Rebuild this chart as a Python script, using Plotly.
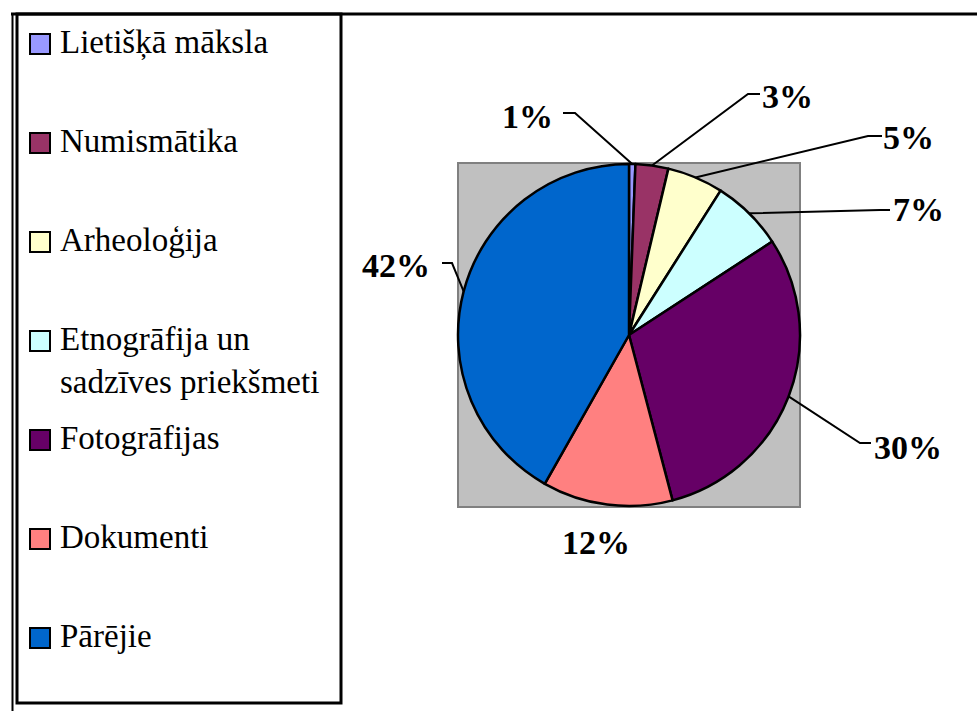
import math
import plotly.graph_objects as go

# data
categories = ['Lietišķā māksla', 'Numismātika', 'Arheoloģija',
              'Etnogrāfija un<br>sadzīves priekšmeti', 'Fotogrāfijas',
              'Dokumenti', 'Pārējie']
shares = [0.6, 3.1, 5.3, 6.8, 30.1, 12.3, 41.8]
pct_labels = ['1%', '3%', '5%', '7%', '30%', '12%', '42%']
colors = ['#9999FF', '#993366', '#FFFFCC', '#CCFFFF', '#660066', '#FF8080', '#0066CC']

W, H = 977, 711
# plot area (px)
PX0, PX1, PY0, PY1 = 458, 800, 163, 507
CX, CY = (PX0 + PX1) / 2, (PY0 + PY1) / 2
R = min(PX1 - PX0, PY1 - PY0) / 2

# label placement (px): text centre, elbow, stub end
label_pos = [(527, 117), (787, 96), (908, 137), (918, 210), (908, 447), (596, 542), (396, 265)]
elbows = [(575, 113), (748, 94), (868, 136), (880, 210), (860, 443), None, (452, 263)]
stubs = [(563, 113), (760, 94), (882, 136), (890, 210), (871, 443), None, (442, 263)]


def px(x):
    return x / W


def py(y):
    return 1 - y / H


fig = go.Figure(go.Pie(
    values=shares, labels=categories, sort=False, direction='clockwise', rotation=0,
    marker=dict(colors=colors, line=dict(color='black', width=2.5)),
    textinfo='none', hoverinfo='label+percent', showlegend=False,
    domain=dict(x=[px(PX0), px(PX1)], y=[py(PY1), py(PY0)]),
))

shapes = []
annotations = []

# grey plot area
shapes.append(dict(type='rect', xref='paper', yref='paper', layer='below',
                   x0=px(PX0), x1=px(PX1), y0=py(PY1), y1=py(PY0),
                   fillcolor='#C0C0C0', line=dict(color='#808080', width=2)))

# percent labels + leader lines
total = sum(shares)
cum = 0
for i, v in enumerate(shares):
    mid = (cum + v / 2) / total * 2 * math.pi
    cum += v
    ax, ay = CX + R * math.sin(mid), CY - R * math.cos(mid)
    if elbows[i] is not None:
        ex, ey = elbows[i]
        sx, sy = stubs[i]
        shapes.append(dict(type='path', xref='paper', yref='paper',
                           path=f'M {px(ax)} {py(ay)} L {px(ex)} {py(ey)} L {px(sx)} {py(sy)}',
                           line=dict(color='black', width=2)))
    tx, ty = label_pos[i]
    annotations.append(dict(x=px(tx), y=py(ty), xref='paper', yref='paper',
                            text=f'<b>{pct_labels[i]}</b>', showarrow=False,
                            xanchor='center', yanchor='middle',
                            font=dict(family='Liberation Serif', size=34, color='black')))

# outer frame
shapes.append(dict(type='line', xref='paper', yref='paper', x0=px(11), x1=px(W), y0=py(14), y1=py(14),
                   line=dict(color='black', width=3)))
shapes.append(dict(type='line', xref='paper', yref='paper', x0=px(12.5), x1=px(12.5), y0=py(14), y1=py(H + 2),
                   line=dict(color='black', width=2)))

# legend box
shapes.append(dict(type='rect', xref='paper', yref='paper', x0=px(17), x1=px(341), y0=py(703), y1=py(14),
                   line=dict(color='black', width=3), fillcolor='rgba(0,0,0,0)'))

for i, name in enumerate(categories):
    yc = 44 + 99 * i
    shapes.append(dict(type='rect', xref='paper', yref='paper',
                       x0=px(30), x1=px(50), y0=py(yc + 10), y1=py(yc - 10),
                       fillcolor=colors[i], line=dict(color='black', width=2)))
    annotations.append(dict(x=px(58), y=py(yc - 22), xref='paper', yref='paper',
                            text=name, showarrow=False, xanchor='left', yanchor='top', align='left',
                            font=dict(family='Liberation Serif', size=33, color='black')))

fig.update_layout(width=W, height=H, margin=dict(l=0, r=0, t=0, b=0),
                  paper_bgcolor='white', plot_bgcolor='white',
                  shapes=shapes, annotations=annotations)

fig.write_html('out.html', config={'displayModeBar': False},
               post_script="document.body.style.margin='0';")
